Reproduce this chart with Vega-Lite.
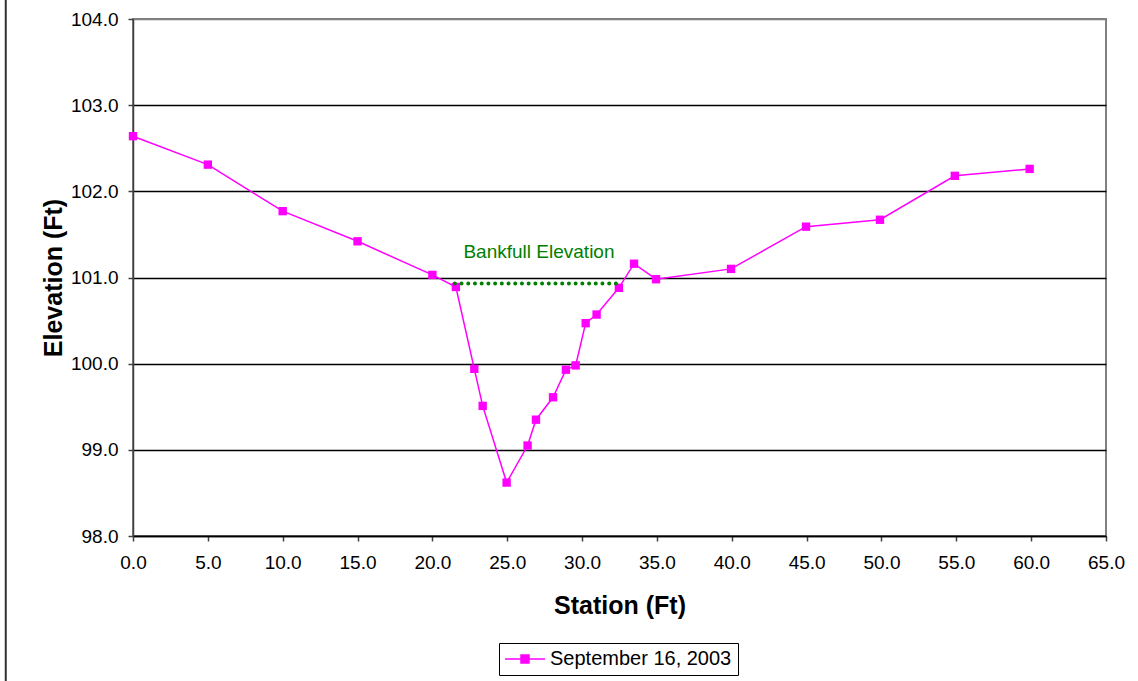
{
  "$schema": "https://vega.github.io/schema/vega-lite/v6.json",
  "width": 973,
  "height": 517,
  "autosize": {"type": "none"},
  "padding": {"left": 133, "top": 19, "right": 32, "bottom": 145},
  "background": "white",
  "config": {
    "font": "Liberation Sans",
    "view": {"stroke": "#808080", "strokeWidth": 2},
    "axis": {
      "labelFont": "Liberation Sans",
      "labelFontSize": 19,
      "labelColor": "#000000",
      "labelFlush": false,
      "titleFont": "Liberation Sans",
      "titleFontSize": 25,
      "titleFontWeight": "bold",
      "titleColor": "#000000",
      "tickColor": "#404040",
      "tickSize": 5,
      "tickWidth": 1.5,
      "domainWidth": 1.5
    }
  },
  "datasets": {
    "profile": [
      {"station": 0.0, "elevation": 102.64, "series": "September 16, 2003"},
      {"station": 5.0, "elevation": 102.31, "series": "September 16, 2003"},
      {"station": 10.0, "elevation": 101.77, "series": "September 16, 2003"},
      {"station": 15.0, "elevation": 101.42, "series": "September 16, 2003"},
      {"station": 20.0, "elevation": 101.03, "series": "September 16, 2003"},
      {"station": 21.57, "elevation": 100.89, "series": "September 16, 2003"},
      {"station": 22.8, "elevation": 99.94, "series": "September 16, 2003"},
      {"station": 23.36, "elevation": 99.51, "series": "September 16, 2003"},
      {"station": 24.96, "elevation": 98.62, "series": "September 16, 2003"},
      {"station": 26.36, "elevation": 99.05, "series": "September 16, 2003"},
      {"station": 26.92, "elevation": 99.35, "series": "September 16, 2003"},
      {"station": 28.06, "elevation": 99.61, "series": "September 16, 2003"},
      {"station": 28.92, "elevation": 99.93, "series": "September 16, 2003"},
      {"station": 29.57, "elevation": 99.98, "series": "September 16, 2003"},
      {"station": 30.24, "elevation": 100.47, "series": "September 16, 2003"},
      {"station": 30.97, "elevation": 100.57, "series": "September 16, 2003"},
      {"station": 32.46, "elevation": 100.88, "series": "September 16, 2003"},
      {"station": 33.47, "elevation": 101.16, "series": "September 16, 2003"},
      {"station": 34.94, "elevation": 100.98, "series": "September 16, 2003"},
      {"station": 39.95, "elevation": 101.1, "series": "September 16, 2003"},
      {"station": 44.96, "elevation": 101.59, "series": "September 16, 2003"},
      {"station": 49.9, "elevation": 101.67, "series": "September 16, 2003"},
      {"station": 54.9, "elevation": 102.18, "series": "September 16, 2003"},
      {"station": 59.9, "elevation": 102.26, "series": "September 16, 2003"}
    ],
    "bankfull": [
      {"start": 21.5, "end": 32.3, "elevation": 100.93, "label": "Bankfull Elevation", "labelStation": 27.12, "labelElevation": 101.227}
    ],
    "frame": [
      {"station": -8.5, "top": 104.25, "bottom": 96.3}
    ]
  },
  "layer": [
    {
      "data": {"name": "frame"},
      "mark": {"type": "rule", "color": "#303030", "strokeWidth": 2},
      "encoding": {
        "x": {"field": "station", "type": "quantitative", "scale": {"domain": [0, 65]}},
        "y": {"field": "top", "type": "quantitative", "scale": {"domain": [98, 104]}},
        "y2": {"field": "bottom"}
      }
    },
    {
      "data": {"name": "profile"},
      "mark": {"type": "line", "color": "#FF00FF", "strokeWidth": 1.5},
      "encoding": {
        "x": {
          "field": "station",
          "type": "quantitative",
          "scale": {"domain": [0, 65], "nice": false, "zero": false},
          "axis": {
            "title": "Station (Ft)",
            "values": [0, 5, 10, 15, 20, 25, 30, 35, 40, 45, 50, 55, 60, 65],
            "format": ".1f",
            "grid": false,
            "domainColor": "#000000",
            "labelPadding": 12,
            "titleX": 486.5,
            "titleY": 77,
            "titleBaseline": "alphabetic",
            "titleAlign": "center"
          }
        },
        "y": {
          "field": "elevation",
          "type": "quantitative",
          "scale": {"domain": [98, 104], "nice": false, "zero": false},
          "axis": {
            "title": "Elevation (Ft)",
            "values": [98, 99, 100, 101, 102, 103, 104],
            "format": ".1f",
            "grid": true,
            "gridColor": {"condition": {"test": "datum.value == 104", "value": "#808080"}, "value": "#000000"},
            "gridWidth": 1.6,
            "domainColor": "#404040",
            "labelPadding": 10,
            "titleX": -72,
            "titleY": 258.5,
            "titleAngle": -90,
            "titleBaseline": "alphabetic",
            "titleAlign": "center"
          }
        }
      }
    },
    {
      "data": {"name": "profile"},
      "mark": {"type": "point", "shape": "square", "size": 70, "filled": true, "opacity": 1},
      "encoding": {
        "x": {"field": "station", "type": "quantitative"},
        "y": {"field": "elevation", "type": "quantitative"},
        "color": {
          "field": "series",
          "type": "nominal",
          "scale": {"range": ["#FF00FF"]},
          "legend": {
            "title": null,
            "orient": "none",
            "legendX": 366,
            "legendY": 624,
            "strokeColor": "#000000",
            "fillColor": "#FFFFFF",
            "padding": 6,
            "labelFont": "Liberation Sans",
            "labelFontSize": 20,
            "labelColor": "#000000",
            "labelLimit": 0,
            "labelOffset": 15,
            "symbolOffset": 10,
            "symbolType": "M-4,0H4M-0.8,-0.8H0.8V0.8H-0.8Z",
            "symbolSize": 100,
            "symbolFillColor": "#FF00FF",
            "symbolStrokeColor": "#FF00FF",
            "symbolStrokeWidth": 1.5,
            "encode": {
              "symbols": {
                "enter": {
                  "stroke": {"value": "#FF00FF"},
                  "strokeWidth": {"value": 1.5}
                },
                "update": {
                  "fill": {"value": "#FF00FF"},
                  "stroke": {"value": "#FF00FF"},
                  "strokeWidth": {"value": 1.5},
                  "strokeOpacity": {"value": 1},
                  "opacity": {"value": 1}
                }
              }
            }
          }
        }
      }
    },
    {
      "data": {"name": "bankfull"},
      "mark": {"type": "rule", "color": "#008000", "strokeWidth": 4, "strokeCap": "round", "strokeDash": [0.01, 6.7]},
      "encoding": {
        "x": {"field": "start", "type": "quantitative"},
        "x2": {"field": "end"},
        "y": {"field": "elevation", "type": "quantitative"}
      }
    },
    {
      "data": {"name": "bankfull"},
      "mark": {"type": "text", "color": "#008000", "font": "Liberation Sans", "fontSize": 19, "align": "center", "baseline": "alphabetic"},
      "encoding": {
        "x": {"field": "labelStation", "type": "quantitative"},
        "y": {"field": "labelElevation", "type": "quantitative"},
        "text": {"field": "label"}
      }
    }
  ]
}
